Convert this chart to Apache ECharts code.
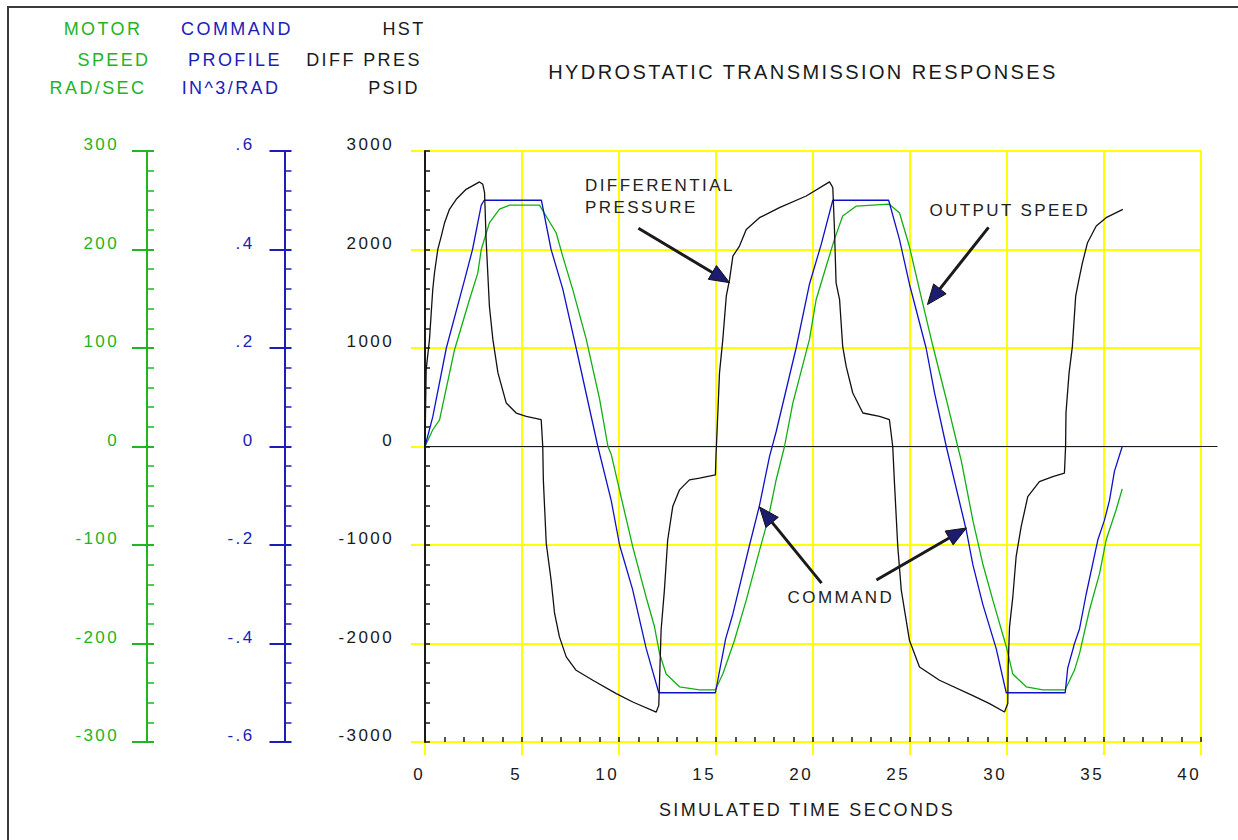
<!DOCTYPE html>
<html><head><meta charset="utf-8">
<script src="https://cdn.jsdelivr.net/npm/echarts@6/dist/echarts.min.js"></script>
<style>html,body{margin:0;padding:0;background:#fff}#c{width:1238px;height:840px}#c svg text{letter-spacing:2.4px}</style>
</head><body><div id="c"></div>
<script>
// ---- data ----
const pressTime=[0,0.06,0.23,0.4,0.49,0.66,0.84,1.01,1.26,1.61,2.12,2.81,2.98,3.07,3.15,3.32,3.5,3.76,4.19,4.7,5.22,5.99,6.07,6.1,6.25,6.5,6.68,6.93,7.28,7.79,8.65,9.86,10.71,11.92,12.05,12.17,12.34,12.51,12.77,13.12,13.63,14.15,14.97,15.0,15.18,15.35,15.53,15.7,15.87,16.21,16.56,17.24,18.27,19.65,20.85,21.02,21.1,21.19,21.37,21.53,21.71,22.05,22.57,23.43,23.94,24.11,24.2,24.37,24.55,24.97,25.49,26.52,28.24,29.1,29.87,30.04,30.06,30.13,30.3,30.47,30.73,31.07,31.67,32.36,32.96,33.02,33.04,33.2,33.37,33.54,33.71,33.89,34.15,34.6,35.11,35.97];
const pressVals=[0,780,1085,1594,1764,2001,2136,2272,2408,2510,2611,2686,2662,2578,2103,1424,1085,747,441,340,305,272,0,-339,-983,-1356,-1695,-1933,-2136,-2272,-2373,-2509,-2594,-2696,-2628,-1865,-1458,-949,-610,-440,-339,-321,-288,-100,747,1085,1526,1696,1933,2035,2204,2323,2425,2543,2686,2629,2238,1662,1492,1017,814,543,340,305,272,0,-372,-1017,-1458,-1966,-2238,-2373,-2530,-2610,-2696,-2610,-2238,-1831,-1526,-1119,-814,-509,-356,-305,-271,0,340,747,1017,1526,1696,1866,2069,2238,2323,2408];

const cmdTime=[0,0.4,1.1,2.05,2.45,2.9,3.05,6.0,6.5,7.1,7.79,8.91,9.6,10.03,10.7,11.4,12.05,14.97,15.5,15.87,16.73,17.24,17.5,17.76,18.1,19.13,19.82,20.42,21.02,23.9,24.46,24.97,25.83,26.26,26.87,27.9,28.24,28.75,29.44,29.96,33.0,33.13,33.48,33.74,34.08,34.68,35.02,35.28,35.54,35.94];
const cmdVals=[0,0.06,0.2,0.34,0.4,0.49,0.5,0.5,0.4,0.32,0.2,0,-0.11,-0.2,-0.29,-0.41,-0.5,-0.5,-0.39,-0.34,-0.2,-0.12,-0.07,-0.02,0.03,0.2,0.33,0.41,0.5,0.5,0.42,0.33,0.2,0.11,0,-0.17,-0.24,-0.32,-0.41,-0.5,-0.5,-0.45,-0.4,-0.37,-0.3,-0.19,-0.15,-0.11,-0.05,0];

const speedTime=[0,0.4,0.75,1.52,2.29,2.72,2.9,3.32,3.84,4.36,5.9,6.76,7.1,7.62,8.31,9.0,9.43,9.6,9.94,10.71,11.4,11.83,12.09,12.43,13.12,14.15,14.97,15.35,15.95,16.56,17.25,17.67,18.1,18.53,18.96,19.82,20.16,20.68,21.1,21.53,22.22,23.94,24.46,24.97,25.49,26.18,26.87,27.46,27.64,28.24,28.75,29.27,29.96,30.3,30.99,31.85,33.0,33.48,33.74,34.25,34.77,35.11,35.63,35.94];
const speedVals=[0,17,27,98,149,176,200,227,241,245,245,217,193,159,109,48,0,-8,-37,-102,-153,-183,-210,-231,-244,-247,-247,-231,-197,-156,-105,-75,-34,0,44,109,149,183,210,234,244,246,237,203,159,102,48,0,-14,-75,-119,-156,-203,-231,-244,-247,-247,-227,-210,-166,-129,-95,-64,-43];

const timeTickLabels=['0','5','10','15','20','25','30','35','40'];
const pressTickLabels=['-3000','-2000','-1000','0','1000','2000','3000'];
const speedTickLabels=['-300','-200','-100','0','100','200','300'];
const cmdTickLabels=['-.6','-.4','-.2','0','.2','.4','.6'];

// annotations (data coordinates: time, psid)
const annoText=['DIFFERENTIAL','PRESSURE','OUTPUT SPEED','COMMAND'];
const annoT=[8.25,8.25,26.0,18.69];
const annoP=[2645,2425,2398,-1529];
const arrowFromT=[11.0,29.05,20.44,23.27];
const arrowFromP=[2215,2225,-1387,-1356];
const arrowToT=[15.7,25.9,17.24,27.91];
const arrowToP=[1663,1441,-613,-827];
const zeroLineEnd=40.85;

// ---- chart ----
const FONT='"Liberation Sans", Arial, sans-serif';
const GREEN='#22b422', BLUE='#1c1cb8', BLACK='#1a1a1a', YEL='#ffff00', NAVY='#1c1c70';
const chart=echarts.init(document.getElementById('c'),null,{renderer:'svg'});
const zip=(a,b)=>a.map((t,i)=>[t,b[i]]);
const fromList=(list,min,step)=>v=>{const i=Math.round((v-min)/step);return list[i]!==undefined?list[i]:'';};
const yLab=(color,margin,labels,min,step)=>({show:true,margin,color,fontSize:17,fontFamily:FONT,verticalAlign:'bottom',lineHeight:13,formatter:fromList(labels,min,step)});

function colorAxes(min,max,interval,offset,color,labels,margin){
  return [
    {type:'value',position:'left',min,max,interval,offset,z:3,
     axisLine:{show:true,onZero:false,lineStyle:{color,width:2}},
     axisTick:{show:true,inside:false,length:15,lineStyle:{color,width:2}},
     minorTick:{show:false},splitLine:{show:false},
     axisLabel:yLab(color,margin,labels,min,interval)},
    {type:'value',position:'left',min,max,interval,offset,z:3,
     axisLine:{show:false,onZero:false},
     axisTick:{show:true,inside:true,length:7,lineStyle:{color,width:2}},
     minorTick:{show:true,splitNumber:5,length:7,lineStyle:{color,width:1.5}},
     splitLine:{show:false},axisLabel:{show:false}}
  ];
}

const option={
  backgroundColor:'#ffffff',
  animation:false,
  grid:{left:425,top:151,width:776,height:591,containLabel:false},
  xAxis:[
    {type:'value',position:'bottom',min:0,max:40,interval:5,z:0,
     axisLine:{show:true,onZero:false,lineStyle:{color:YEL,width:2}},
     axisTick:{show:true,inside:false,length:13,lineStyle:{color:YEL,width:2}},
     splitLine:{show:true,lineStyle:{color:YEL,width:2}},
     axisLabel:{show:true,align:'right',margin:24,color:BLACK,fontSize:17,fontFamily:FONT,padding:[0,0,0,0],formatter:fromList(timeTickLabels,0,5)}},
    {type:'value',position:'bottom',min:0,max:40,interval:1,z:3,
     axisLine:{show:false,onZero:false},
     axisTick:{show:true,inside:true,length:5,lineStyle:{color:BLACK,width:1.5}},
     splitLine:{show:false},axisLabel:{show:false}}
  ],
  yAxis:[
    {type:'value',position:'left',min:-3000,max:3000,interval:1000,offset:0,z:3,
     axisLine:{show:true,onZero:false,lineStyle:{color:BLACK,width:2}},
     axisTick:{show:true,inside:true,length:5,lineStyle:{color:BLACK,width:1.5}},
     minorTick:{show:true,splitNumber:5,length:5,lineStyle:{color:BLACK,width:1.5}},
     splitLine:{show:false},
     axisLabel:yLab(BLACK,31,pressTickLabels,-3000,1000)},
    {type:'value',position:'left',min:-3000,max:3000,interval:1000,offset:0,z:0,
     axisLine:{show:false,onZero:false},
     axisTick:{show:true,inside:false,length:14,lineStyle:{color:YEL,width:2}},
     splitLine:{show:true,lineStyle:{color:YEL,width:2}},
     axisLabel:{show:false}},
    ...colorAxes(-300,300,100,278,GREEN,speedTickLabels,28),
    ...colorAxes(-0.6,0.6,0.2,140.5,BLUE,cmdTickLabels,30)
  ],
  series:[
    {name:'speed',type:'line',xAxisIndex:0,yAxisIndex:2,data:zip(speedTime,speedVals),showSymbol:false,z:2,
     lineStyle:{color:'#10b010',width:1.3}},
    {name:'command',type:'line',xAxisIndex:0,yAxisIndex:4,data:zip(cmdTime,cmdVals),showSymbol:false,z:3,
     lineStyle:{color:'#1010c8',width:1.3}},
    {name:'pressure',type:'line',xAxisIndex:0,yAxisIndex:0,data:zip(pressTime,pressVals),showSymbol:false,z:4,
     lineStyle:{color:'#111111',width:1.3}}
  ]
};
chart.setOption(option);

// ---- graphics: header texts, frame, zero line, annotations ----
const g=[];
g.push({type:'rect',shape:{x:8,y:7,width:1400,height:1000},style:{fill:'none',stroke:'#3a3a3a',lineWidth:2},z:10,silent:true});
const hdr=(text,x,y,color,size)=>g.push({type:'text',x,y,z:10,style:{text,fill:color,font:(size||18)+'px '+FONT,textAlign:'center',textVerticalAlign:'middle'}});
hdr('MOTOR',103,29,GREEN);hdr('SPEED',114,60,GREEN);hdr('RAD/SEC',98,88,GREEN);
hdr('COMMAND',237,29,BLUE);hdr('PROFILE',235,60,BLUE);hdr('IN^3/RAD',231,88,BLUE);
hdr('HST',404,29,BLACK);hdr('DIFF PRES',364,60,BLACK);hdr('PSID',394,88,BLACK);
hdr('HYDROSTATIC TRANSMISSION RESPONSES',803,72,BLACK,20);
hdr('SIMULATED TIME SECONDS',807,810,BLACK);

const px=(t,v)=>chart.convertToPixel({xAxisIndex:0,yAxisIndex:0},[t,v]);
const z0=px(0,0), z1=px(zeroLineEnd,0);
g.push({type:'line',z:1,shape:{x1:z0[0],y1:z0[1],x2:z1[0],y2:z1[1]},style:{stroke:BLACK,lineWidth:1.2}});

annoText.forEach((t,i)=>{
  const p=px(annoT[i],annoP[i]);
  g.push({type:'text',x:p[0],y:p[1],z:10,style:{text:t,fill:'#222',font:'17px '+FONT,textAlign:'left',textVerticalAlign:'middle'}});
});
arrowFromT.forEach((_,i)=>{
  const a=px(arrowFromT[i],arrowFromP[i]), b=px(arrowToT[i],arrowToP[i]);
  const dx=b[0]-a[0], dy=b[1]-a[1], L=Math.hypot(dx,dy), ux=dx/L, uy=dy/L;
  const hl=20, hw=8;
  const bx=b[0]-ux*hl, by=b[1]-uy*hl;
  g.push({type:'line',z:10,shape:{x1:a[0],y1:a[1],x2:bx,y2:by},style:{stroke:'#1a1a1a',lineWidth:3}});
  g.push({type:'polygon',z:11,shape:{points:[[b[0],b[1]],[bx-uy*hw,by+ux*hw],[bx+uy*hw,by-ux*hw]]},style:{fill:NAVY,stroke:'#111',lineWidth:1}});
});
chart.setOption({graphic:{elements:g}});
</script></body></html>
